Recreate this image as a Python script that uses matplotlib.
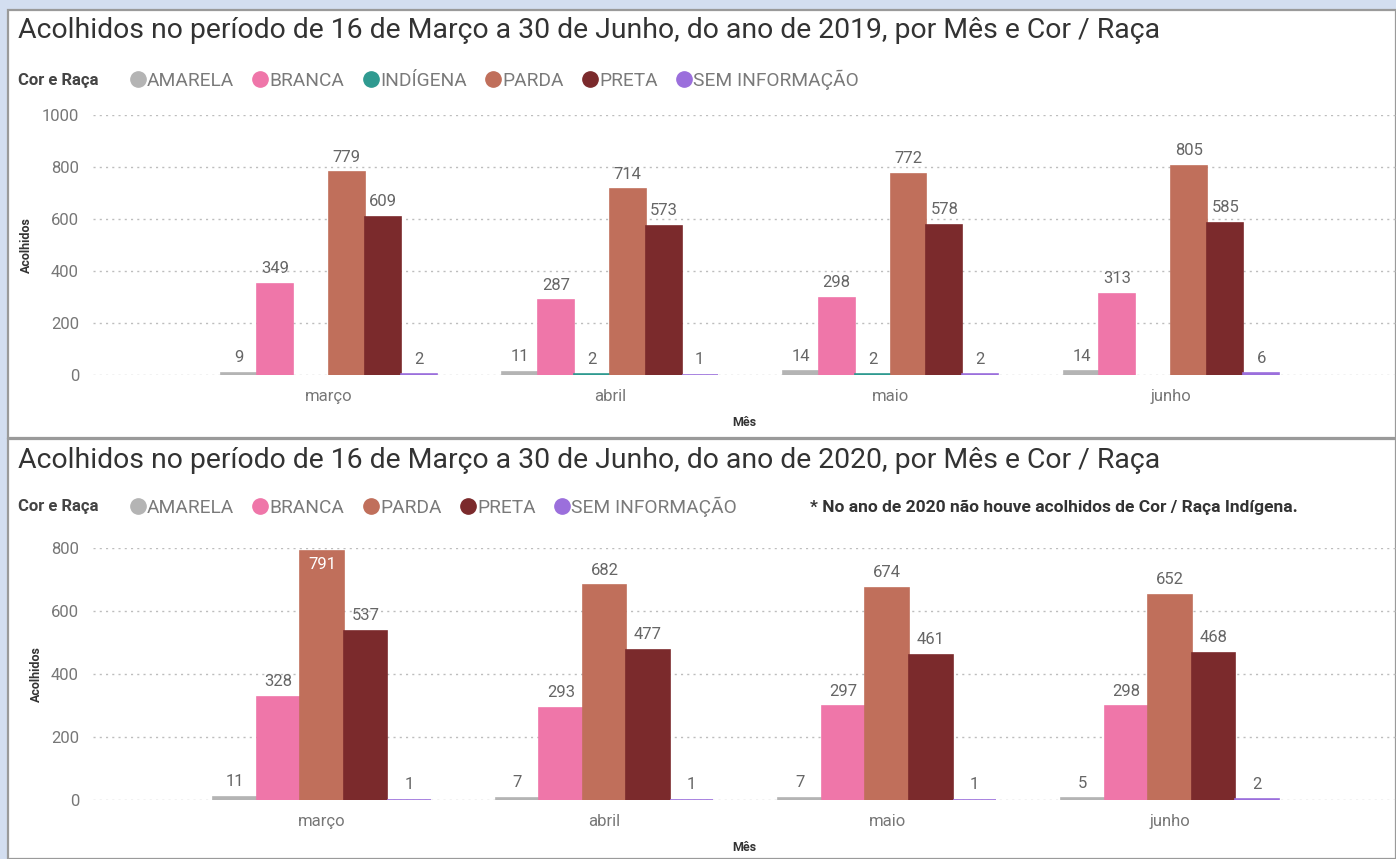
import numpy as np
import matplotlib
matplotlib.use("Agg")
import matplotlib.pyplot as plt
from matplotlib.patches import Rectangle
from matplotlib.lines import Line2D

plt.rcParams['font.family'] = ['Roboto', 'DejaVu Sans']

# dados
meses = ['março', 'abril', 'maio', 'junho']

racas_2019 = ['AMARELA', 'BRANCA', 'INDÍGENA', 'PARDA', 'PRETA', 'SEM INFORMAÇÃO']
amarela_2019 = [9, 11, 14, 14]
branca_2019 = [349, 287, 298, 313]
indigena_2019 = [np.nan, 2, 2, np.nan]
parda_2019 = [779, 714, 772, 805]
preta_2019 = [609, 573, 578, 585]
seminfo_2019 = [2, 1, 2, 6]

racas_2020 = ['AMARELA', 'BRANCA', 'PARDA', 'PRETA', 'SEM INFORMAÇÃO']
amarela_2020 = [11, 7, 7, 5]
branca_2020 = [328, 293, 297, 298]
parda_2020 = [791, 682, 674, 652]
preta_2020 = [537, 477, 461, 468]
seminfo_2020 = [1, 1, 1, 2]

cores = {
    'AMARELA': '#b4b4b4',
    'BRANCA': '#ef76a9',
    'INDÍGENA': '#2f9a90',
    'PARDA': '#c06f5b',
    'PRETA': '#7b2a2c',
    'SEM INFORMAÇÃO': '#9b6fdc',
}

W, H = 1396, 859
fig = plt.figure(figsize=(W / 100, H / 100), dpi=100)
fig.patch.set_facecolor('#d3def0')


def fx(px):
    return px / W


def fy(py):
    return 1 - py / H


# paineis brancos
for top, bot in [(10, 438), (439, 859)]:
    fig.patches.append(Rectangle((fx(8), fy(bot)), 1 - fx(8), (bot - top) / H,
                                 transform=fig.transFigure, facecolor='white',
                                 edgecolor='#9a9a9a', linewidth=1.6, zorder=-10))


def grafico(ax, series, racas, ymax, yticks, largura, centro0):
    n = len(racas)
    x = np.arange(len(meses))
    for i, (nome, vals) in enumerate(zip(racas, series)):
        pos = x + (i - (n - 1) / 2) * largura
        # borda da mesma cor para as barras muito pequenas aparecerem como linha
        bars = ax.bar(pos, vals, largura, color=cores[nome], edgecolor=cores[nome],
                      linewidth=1.2, zorder=3)
        for b, v in zip(bars, vals):
            if np.isnan(v):
                continue
            cx = b.get_x() + b.get_width() / 2
            if v > ymax * 0.93:
                ax.text(cx, v - ymax * 0.025, f'{int(v)}', ha='center', va='top',
                        color='white', fontsize=12, zorder=4)
            else:
                ax.text(cx, v + ymax * 0.03, f'{int(v)}', ha='center', va='bottom',
                        color='#666666', fontsize=12, zorder=4)
    ax.set_ylim(0, ymax)
    ax.set_yticks(yticks)
    ax.set_xticks(x)
    ax.set_xticklabels(meses)
    ax.set_xlim(centro0, 3.8)
    ax.grid(axis='y', linestyle=(0, (1.5, 3)), color='#bdbdbd', linewidth=1, zorder=0)
    for s in ax.spines.values():
        s.set_visible(False)
    ax.tick_params(length=0, labelsize=12, colors='#777777', pad=10)
    ax.set_facecolor('none')
    ax.set_xlabel('Mês', fontsize=9, fontweight='bold', color='#333333', labelpad=9)
    ax.set_ylabel('Acolhidos', fontsize=9, fontweight='bold', color='#333333', labelpad=6)


def legenda(ax, racas, ypx):
    fig.text(fx(18), fy(ypx), 'Cor e Raça', fontsize=12, fontweight='bold',
             color='#444444', va='center')
    handles = [Line2D([], [], marker='o', linestyle='', markersize=11,
                      color=cores[r]) for r in racas]
    fig.legend(handles, racas, loc='center left', bbox_to_anchor=(fx(126), fy(ypx)),
               ncol=len(racas), frameon=False, handletextpad=-0.1,
               columnspacing=0.75, handlelength=1.2, borderpad=0, borderaxespad=0,
               prop={'size': 13.8}, labelcolor='#7a7a7a')


# 2019
ax1 = fig.add_axes([fx(93), fy(375), 1 - fx(93), 260 / H])
grafico(ax1, [amarela_2019, branca_2019, indigena_2019, parda_2019, preta_2019, seminfo_2019],
        racas_2019, 1000, [0, 200, 400, 600, 800, 1000], 0.128, -0.84)
fig.text(fx(18), fy(31), 'Acolhidos no período de 16 de Março a 30 de Junho, do ano de 2019, por Mês e Cor / Raça',
         fontsize=20.4, color='#333333', va='center')
legenda(ax1, racas_2019, 80)

# 2020
ax2 = fig.add_axes([fx(93), fy(800), 1 - fx(93), 252 / H])
grafico(ax2, [amarela_2020, branca_2020, parda_2020, preta_2020, seminfo_2020],
        racas_2020, 800, [0, 200, 400, 600, 800], 0.154, -0.81)
fig.text(fx(18), fy(461), 'Acolhidos no período de 16 de Março a 30 de Junho, do ano de 2020, por Mês e Cor / Raça',
         fontsize=20.4, color='#333333', va='center')
legenda(ax2, racas_2020, 507)
fig.text(fx(810), fy(507), '* No ano de 2020 não houve acolhidos de Cor / Raça Indígena.',
         fontsize=12.5, fontweight='bold', color='#333333', va='center')

fig.savefig('out.png', dpi=100, facecolor=fig.get_facecolor())
